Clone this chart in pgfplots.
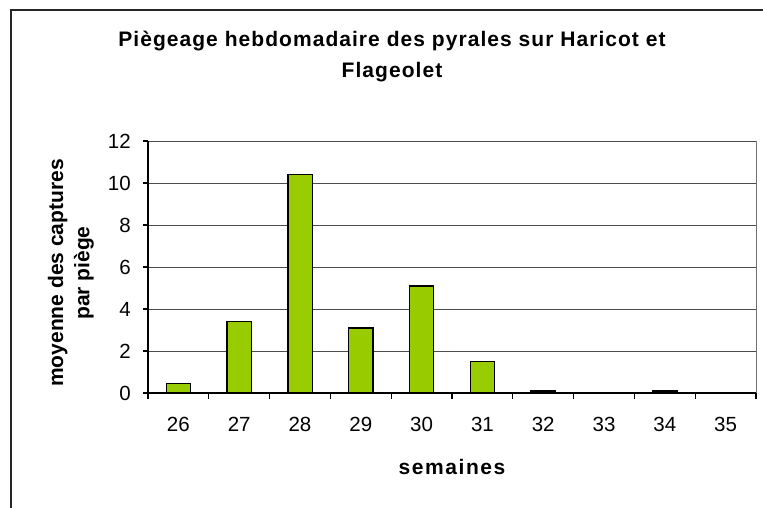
\documentclass[border=0pt]{standalone}
\usepackage{fontspec}
\setmainfont{Liberation Sans}
\newfontfamily\titlefont[LetterSpace=5]{Liberation Sans}
\newfontfamily\xlabfont[LetterSpace=7.5]{Liberation Sans}
\usepackage{pgfplots}
\pgfplotsset{compat=1.18}
\definecolor{barg}{HTML}{99CC00}
\begin{document}
\begin{tikzpicture}[x=1pt,y=1pt]
\useasboundingbox (0,0) rectangle (763,-507);
\clip (0,0) rectangle (763,-507);
\draw[line width=1.2pt, black!85] (11,-520) -- (11,-10) -- (780,-10);
\begin{axis}[
  at={(148pt,-393pt)}, anchor=south west,
  scale only axis, width=608pt, height=252pt,
  ymin=0, ymax=12, ytick={0,2,...,12},
  xmin=-0.5, xmax=9.5,
  xtick={0,...,9},
  xticklabels={26,27,28,29,30,31,32,33,34,35},
  minor xtick={-0.5,0.5,...,9.5},
  axis x line*=bottom, axis y line*=left,
  axis line style={black, line width=1.3pt, -},
  tick align=outside,
  x tick style={draw=none},
  minor x tick style={draw=black, line width=1.1pt},
  minor tick length=6pt,
  y tick style={black, line width=1.1pt},
  major tick length=5pt,
  ymajorgrids,
  major grid style={black!70, line width=0.9pt},
  /pgf/number format/assume math mode=true,
  tick label style={font=\fontsize{20.5}{24}\selectfont},
  yticklabel style={inner sep=0pt, xshift=-12pt},
  xticklabel style={inner sep=0pt, anchor=base, yshift=-33pt},
  clip=false,
]
\addplot[ybar, bar width=24.3pt, fill=barg, draw=black, line width=1.3pt]
  coordinates {(0,0.45) (1,3.4) (2,10.4) (3,3.1) (4,5.1) (5,1.5) (6,0.1) (7,0) (8,0.1) (9,0)};
\draw[black!55, line width=1pt] (rel axis cs:1,0) -- (rel axis cs:1,1);
\end{axis}
\node[font=\titlefont\bfseries\fontsize{21}{25}\selectfont, anchor=base] at (392,-46.7) {Piègeage hebdomadaire des pyrales sur Haricot et};
\node[font=\titlefont\bfseries\fontsize{21}{25}\selectfont, anchor=base] at (392,-77) {Flageolet};
\node[font=\bfseries\fontsize{21}{25}\selectfont, anchor=base, rotate=90] at (63,-273) {moyenne des captures};
\node[font=\bfseries\fontsize{21}{25}\selectfont, anchor=base, rotate=90] at (89.3,-273) {par piège};
\node[font=\xlabfont\bfseries\fontsize{21}{25}\selectfont, anchor=base] at (452,-474) {semaines};
\end{tikzpicture}
\end{document}
